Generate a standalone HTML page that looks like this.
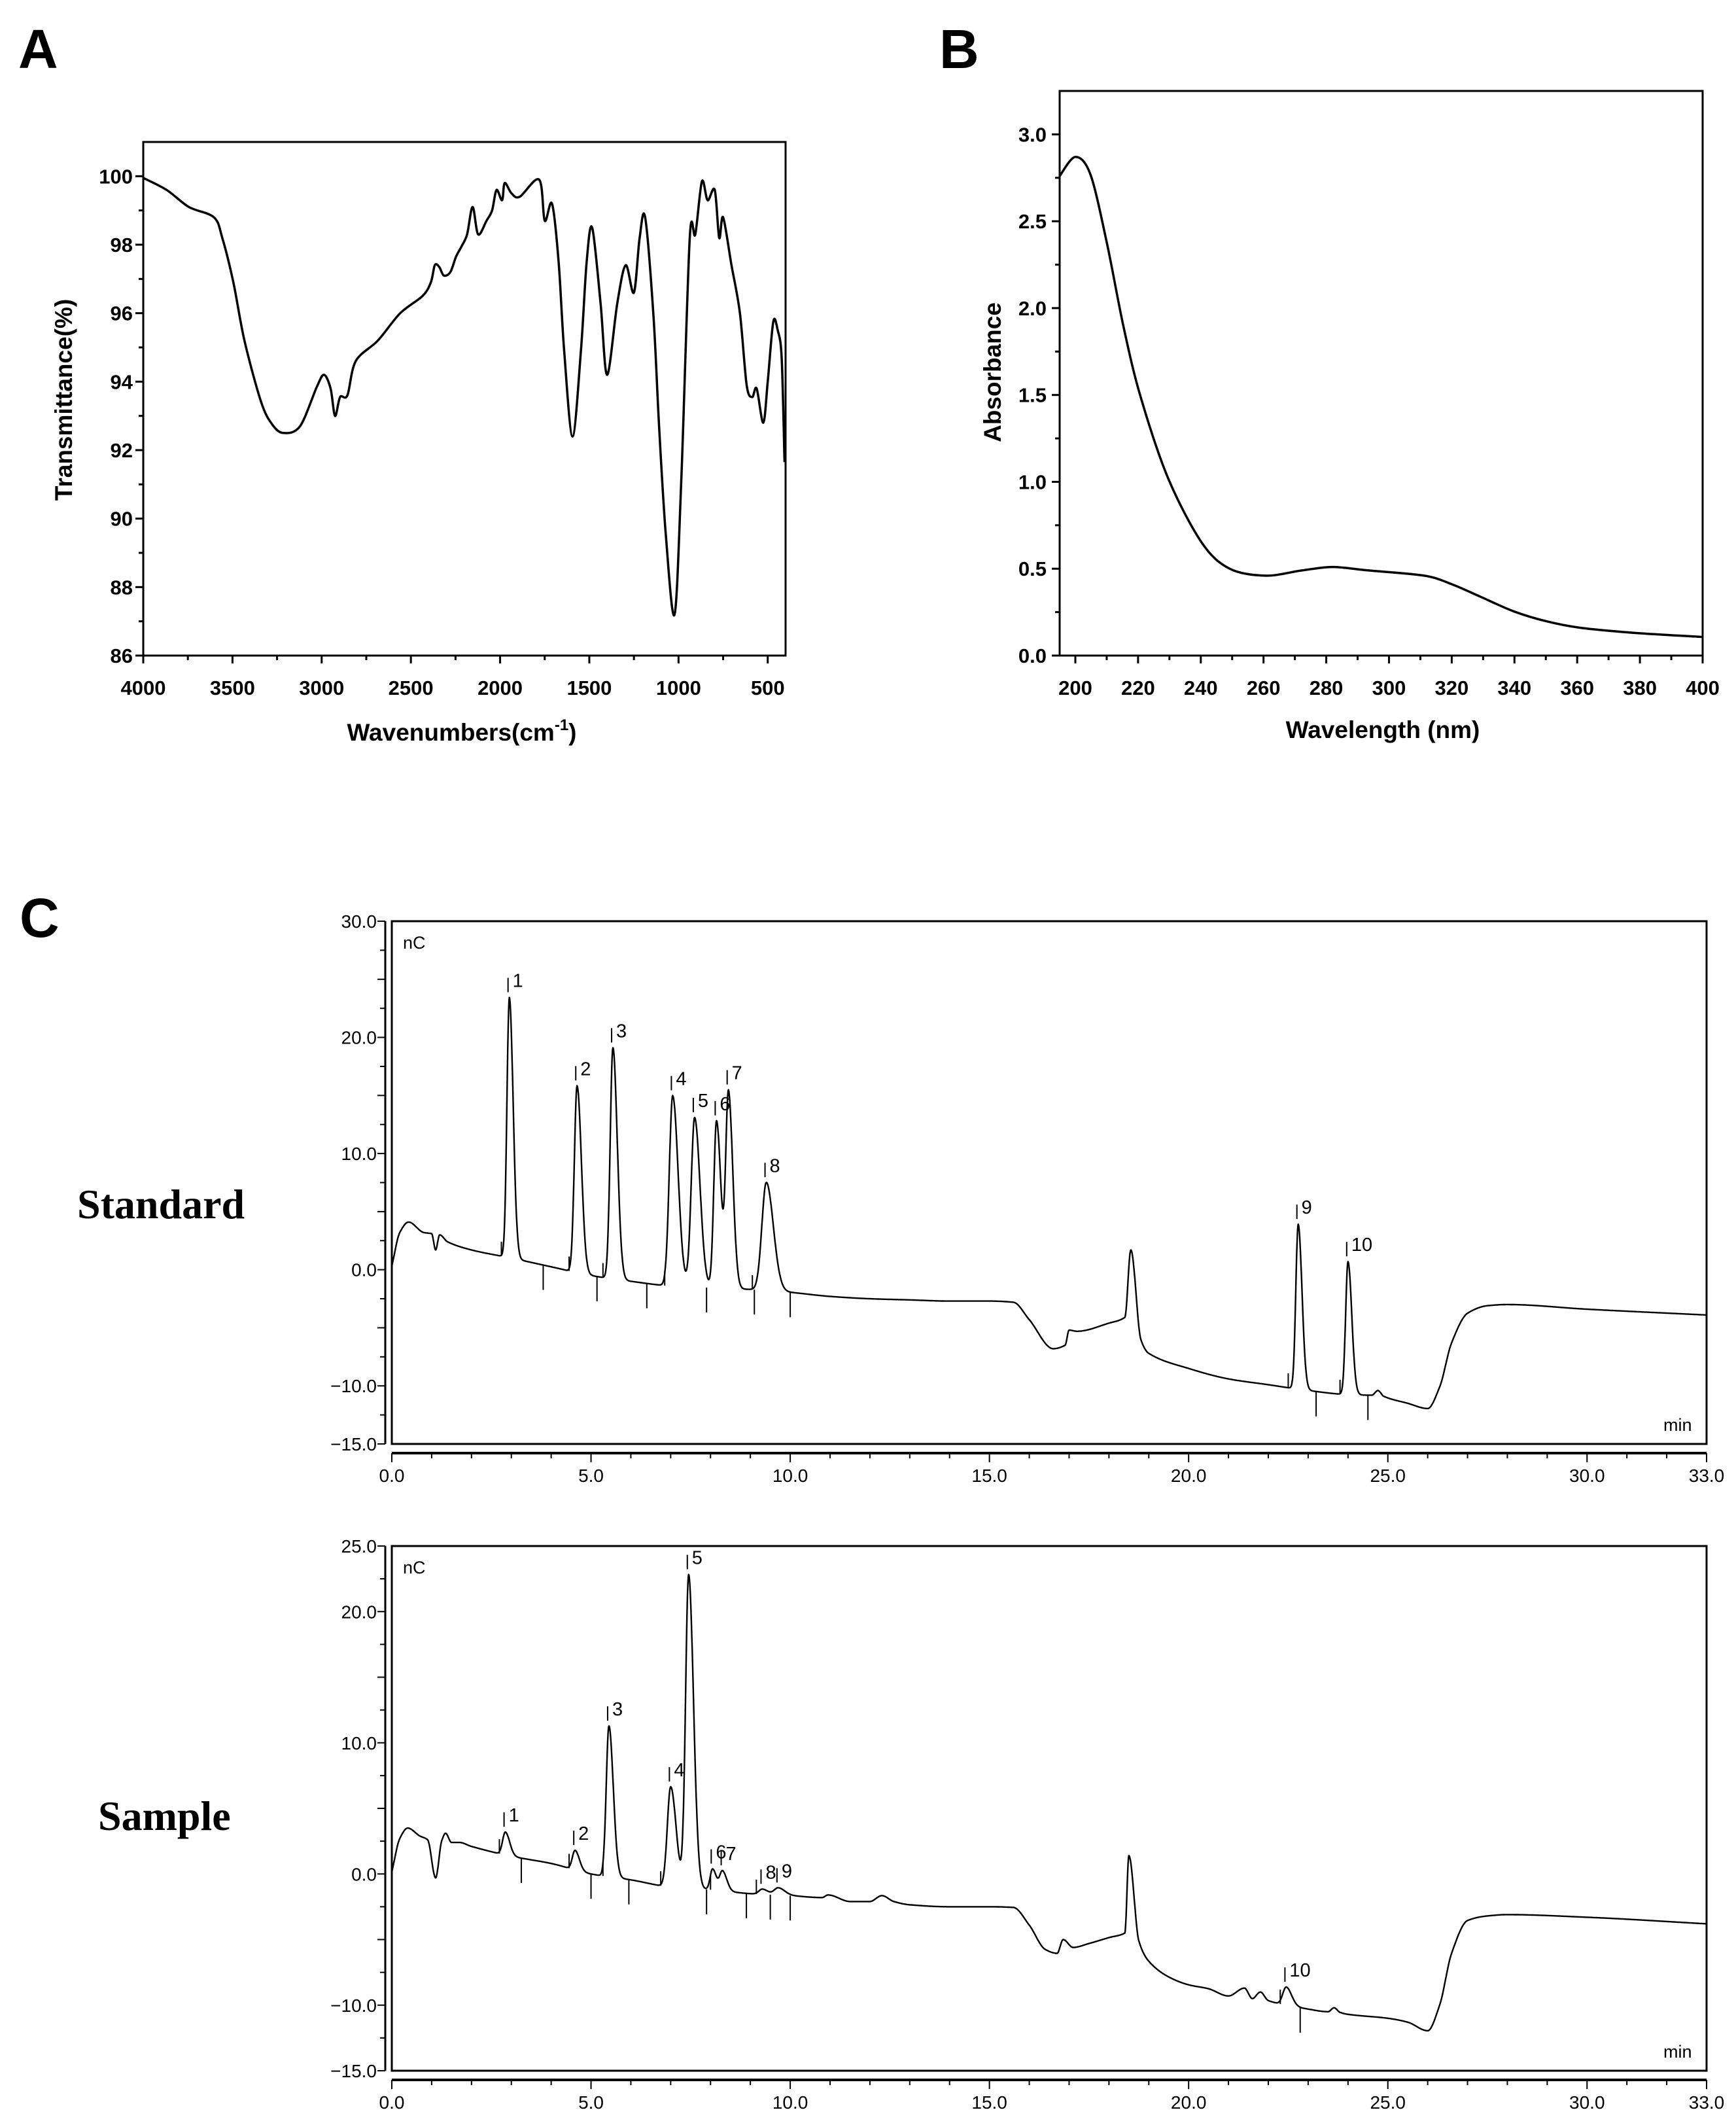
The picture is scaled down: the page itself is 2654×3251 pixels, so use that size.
<!DOCTYPE html>
<html><head><meta charset="utf-8">
<style>
html,body{margin:0;padding:0;background:#fff;}
svg{display:block;}
.b{font-family:"Liberation Sans",Arial,sans-serif;font-weight:bold;fill:#000;}
.n{font-family:"Liberation Sans Narrow","Liberation Sans",Arial,sans-serif;fill:#000;}
.s{font-family:"Liberation Serif","Times New Roman",serif;font-weight:bold;fill:#000;}
</style></head>
<body>
<svg id="fig" xmlns="http://www.w3.org/2000/svg" width="2654" height="3251" viewBox="0 0 2654 3251">
<rect x="0" y="0" width="2654" height="3251" fill="#fff"/>
<text class="b" x="28" y="104" font-size="84">A</text>
<text class="b" x="1436" y="104" font-size="84">B</text>
<text class="b" x="30" y="1432" font-size="84">C</text>
<text class="b" font-size="37" text-anchor="middle" transform="translate(110,611) rotate(-90)">Transmittance(%)</text>
<text class="b" x="706" y="1132" font-size="37" text-anchor="middle">Wavenumbers(cm<tspan font-size="24" dy="-16">-1</tspan><tspan dy="16">)</tspan></text>
<text class="b" font-size="37" text-anchor="middle" transform="translate(1530,569) rotate(-90)">Absorbance</text>
<text class="b" x="2114" y="1128" font-size="37" text-anchor="middle">Wavelength (nm)</text>
<text class="s" x="118" y="1862" font-size="64">Standard</text>
<text class="s" x="150" y="2797" font-size="64">Sample</text>
</svg>
<script>
// ---------- Panel A: FTIR ----------
const ftirWavenumbers = [4000,3869,3744,3604,3557,3495,3433,3339,3277,3214,3121,3027,2987,2950,2925,2897,2856,2809,2685,2560,2435,2388,2366,2341,2316,2279,2247,2216,2185,2154,2123,2076,2045,2020,1989,1974,1936,1890,1781,1750,1709,1672,1641,1594,1547,1515,1484,1437,1400,1343,1296,1250,1218,1187,1140,1109,1071,1022,984,937,906,869,837,797,772,750,703,656,618,587,562,525,500,469,444,422,406];
const ftirTransmittance = [99.95,99.6,99.1,98.8,98.2,96.9,95.2,93.4,92.75,92.5,92.7,93.85,94.2,93.8,93.0,93.55,93.6,94.6,95.2,96.0,96.5,96.9,97.4,97.35,97.1,97.2,97.65,97.95,98.3,99.1,98.3,98.7,99.0,99.6,99.3,99.8,99.5,99.4,99.9,98.7,99.2,97.5,94.9,92.4,94.9,97.5,98.5,96.3,94.2,96.3,97.4,96.6,98.2,98.8,95.9,92.7,89.5,87.2,91.2,98.2,98.3,99.85,99.3,99.6,98.2,98.8,97.4,96.0,93.9,93.55,93.8,92.8,94.0,95.75,95.5,94.7,91.65];
const ftirXTicks = [4000,3500,3000,2500,2000,1500,1000,500];
const ftirYTicks = [86,88,90,92,94,96,98,100];

// ---------- Panel B: UV ----------
const uvWavelengths = [195,200,204.8,210,215.4,220.8,229.6,240.3,249.2,260.7,272.2,282,293.5,311.3,320.1,329,339.7,350.3,361,378.7,400];
const uvAbsorbance = [2.76,2.87,2.77,2.38,1.89,1.49,1.02,0.65,0.50,0.46,0.49,0.51,0.49,0.46,0.41,0.34,0.255,0.197,0.16,0.13,0.107];
const uvXTicks = [200,220,240,260,280,300,320,340,360,380,400];
const uvYTicks = [0.0,0.5,1.0,1.5,2.0,2.5,3.0];

// ---------- Panel C: chromatograms ----------
const chromXTicks = [0,5,10,15,20,25,30,33];
const stdYTicks = [30,20,10,0,-10,-15];
const smpYTicks = [25,20,10,0,-10,-15];
const stdBaseTimes = [0,0.2,0.42,0.8,1.0,1.1,1.2,1.4,2,3,4,5,6,7,8,9,10,11,12,13,14,15,15.6,16,16.6,16.9,17.0,17.2,18,18.4,18.55,18.8,19,20,21,22,23,24,24.6,24.75,24.9,25.5,26,26.3,26.6,27,27.5,28,30,33];
const stdBaseValues = [0.3,3.2,4.1,3.2,3.1,1.7,3.0,2.4,1.7,1.0,0.25,-0.5,-1.0,-1.4,-1.55,-1.7,-1.95,-2.3,-2.5,-2.6,-2.7,-2.7,-2.8,-4.3,-6.8,-6.5,-5.2,-5.3,-4.6,-4.1,1.7,-6.0,-7.2,-8.5,-9.4,-9.9,-10.4,-10.75,-10.8,-10.4,-10.9,-11.5,-11.95,-10.1,-6.3,-3.75,-3.1,-3.0,-3.4,-3.9];
const stdPeakTimes = [2.95,4.65,5.55,7.05,7.6,8.15,8.45,9.4,22.75,24.0];
const stdPeakHeights = [22.4,16.1,19.9,16.4,14.6,14.4,16.8,9.3,14.2,11.45];
const stdPeakWidths = [0.07,0.08,0.08,0.1,0.1,0.08,0.08,0.13,0.07,0.07];
const stdPeakNames = ["1","2","3","4","5","6","7","8","9","10"];
const stdMarkUp = [2.75,4.45,5.3,6.85,9.05,22.5,23.8];
const stdMarkDown = [3.8,5.15,6.4,7.9,9.1,10.0,23.2,24.5];

const smpBaseTimes = [0,0.2,0.4,0.7,0.9,1.1,1.25,1.35,1.5,1.7,2,3,4,5,6,7,8,9,10,10.8,10.95,11.5,12,12.3,12.6,13,14,15,15.6,16,16.4,16.7,16.85,17.1,17.5,18,18.4,18.5,18.75,19,19.5,20,20.5,21,21.4,21.6,21.8,22,23,23.5,23.65,23.8,24,25,25.5,26,26.3,26.6,27,27.5,28,30,33];
const smpBaseValues = [0.15,2.7,3.5,2.9,2.6,-0.3,2.5,3.1,2.4,2.4,2.1,1.35,0.8,0,-0.45,-1.0,-1.2,-1.5,-1.65,-1.8,-1.6,-2.1,-2.1,-1.65,-2.1,-2.35,-2.5,-2.5,-2.55,-3.9,-5.75,-6.05,-5.0,-5.6,-5.3,-4.85,-4.5,1.4,-5.1,-6.65,-7.85,-8.45,-8.75,-9.3,-8.7,-9.5,-9.0,-9.65,-10.3,-10.5,-10.2,-10.55,-10.7,-11.0,-11.3,-11.95,-10.0,-6.05,-3.55,-3.2,-3.1,-3.3,-3.8];
const smpPeakTimes = [2.85,4.6,5.45,7.0,7.45,8.05,8.3,9.3,9.7,22.45];
const smpPeakHeights = [1.75,1.5,11.5,7.65,23.9,1.6,1.5,0.4,0.55,1.4];
const smpPeakWidths = [0.08,0.08,0.08,0.1,0.09,0.07,0.08,0.1,0.12,0.1];
const smpPeakNames = ["1","2","3","4","5","6","7","8","9","10"];
const smpMarkUp = [2.7,4.45,5.3,6.75,8.0,9.15,22.3];
const smpMarkDown = [3.25,5.0,5.95,7.9,8.9,9.5,10.0,22.8];

const NS = "http://www.w3.org/2000/svg";
const svg = document.getElementById('fig');
function mk(tag, attrs, name){
  const el = document.createElementNS(NS, tag);
  for (const k in attrs) el.setAttribute(k, attrs[k]);
  
  
  svg.appendChild(el);
  return el;
}
function lin(d0,d1,r0,r1){ return v => r0 + (v-d0)/(d1-d0)*(r1-r0); }
function smoothPath(pts){
  let d = "M"+pts[0][0].toFixed(1)+","+pts[0][1].toFixed(1);
  for (let i=0;i<pts.length-1;i++){
    const p0=pts[Math.max(0,i-1)], p1=pts[i], p2=pts[i+1], p3=pts[Math.min(pts.length-1,i+2)];
    const t=0.16;
    const c1=[p1[0]+(p2[0]-p0[0])*t, p1[1]+(p2[1]-p0[1])*t];
    const c2=[p2[0]-(p3[0]-p1[0])*t, p2[1]-(p3[1]-p1[1])*t];
    d += " C"+c1[0].toFixed(1)+","+c1[1].toFixed(1)+" "+c2[0].toFixed(1)+","+c2[1].toFixed(1)+" "+p2[0].toFixed(1)+","+p2[1].toFixed(1);
  }
  return d;
}

// ---- Panel A ----
(function(){
  const L=219,R=1201,T=217,B=1002;
  const x=lin(4000,400,L,R), y=lin(86,101,B,T);
  mk('rect',{x:L,y:T,width:R-L,height:B-T,fill:'none',stroke:'#000','stroke-width':3},'plot-frame-a');
  for (let v=86; v<=100; v+=1){
    const major = v%2===0;
    mk('line',{x1:L-(major?12:7),y1:y(v),x2:L,y2:y(v),stroke:'#000','stroke-width':3},'y-tick-a');
  }
  ftirYTicks.forEach(v=>{
    const t=mk('text',{x:L-16,y:y(v)+11,'font-size':31,'text-anchor':'end',class:'b'},'y-tick-label-a');
    t.textContent=String(v);
  });
  for (let v=4000; v>=500; v-=250){
    const major = v%500===0;
    mk('line',{x1:x(v),y1:B,x2:x(v),y2:B+(major?12:7),stroke:'#000','stroke-width':3},'x-tick-a');
  }
  ftirXTicks.forEach(v=>{
    const t=mk('text',{x:x(v),y:1062,'font-size':31,'text-anchor':'middle',class:'b'},'x-tick-label-a');
    t.textContent=String(v);
  });
  const pts=ftirWavenumbers.map((w,i)=>[x(w),y(ftirTransmittance[i])]);
  mk('path',{d:smoothPath(pts),fill:'none',stroke:'#000','stroke-width':3.5,'stroke-linejoin':'round'},'ftir-spectrum-line');
})();

// ---- Panel B ----
(function(){
  const L=1620,R=2603,T=139,B=1002;
  const x=lin(195,400,L,R), y=lin(0,3.25,B,T);
  mk('rect',{x:L,y:T,width:R-L,height:B-T,fill:'none',stroke:'#000','stroke-width':3},'plot-frame-b');
  for (let v=0; v<=3.0001; v+=0.25){
    const major = Math.abs(v*2-Math.round(v*2))<1e-6;
    mk('line',{x1:L-(major?12:7),y1:y(v),x2:L,y2:y(v),stroke:'#000','stroke-width':3},'y-tick-b');
  }
  uvYTicks.forEach(v=>{
    const t=mk('text',{x:L-20,y:y(v)+11,'font-size':31,'text-anchor':'end',class:'b'},'y-tick-label-b');
    t.textContent=v.toFixed(1);
  });
  for (let v=200; v<=400; v+=10){
    const major = v%20===0;
    mk('line',{x1:x(v),y1:B,x2:x(v),y2:B+(major?12:7),stroke:'#000','stroke-width':3},'x-tick-b');
  }
  uvXTicks.forEach(v=>{
    const t=mk('text',{x:x(v),y:1062,'font-size':31,'text-anchor':'middle',class:'b'},'x-tick-label-b');
    t.textContent=String(v);
  });
  const pts=uvWavelengths.map((w,i)=>[x(w),y(uvAbsorbance[i])]);
  mk('path',{d:smoothPath(pts),fill:'none',stroke:'#000','stroke-width':3.5},'uv-spectrum-line');
})();

// ---- Panel C ----
function interp(ts, vs, t){
  const n=ts.length;
  if (t<=ts[0]) return vs[0];
  if (t>=ts[n-1]) return vs[n-1];
  let i=1; while (t>ts[i]) i++;
  const k=i-1;
  const slope=j=>(vs[j+1]-vs[j])/(ts[j+1]-ts[j]);
  function tan(j){
    if (j===0) return slope(0);
    if (j===n-1) return slope(n-2);
    const a=slope(j-1), b=slope(j);
    if (a*b<=0) return 0;
    return 2*a*b/(a+b);
  }
  const h=ts[k+1]-ts[k], s=(t-ts[k])/h;
  const m0=tan(k)*h, m1=tan(k+1)*h;
  const h00=2*s*s*s-3*s*s+1, h10=s*s*s-2*s*s+s, h01=-2*s*s*s+3*s*s, h11=s*s*s-s*s;
  return h00*vs[k]+h10*m0+h01*vs[k+1]+h11*m1;
}
function chrom(cfg){
  const L=599,R=2609,T=cfg.T,B=cfg.B;
  const x=lin(0,33,L,R), y=lin(-15,cfg.ymax,B,T);
  const pre=cfg.pre;
  mk('rect',{x:L,y:T,width:R-L,height:B-T,fill:'none',stroke:'#000','stroke-width':3},pre+'-plot-frame');
  mk('line',{x1:589,y1:T,x2:589,y2:B,stroke:'#000','stroke-width':3},pre+'-y-axis-line');
  for (let v=-15; v<=cfg.ymax+0.001; v+=2.5){
    const major = Math.abs(v%5)<1e-6;
    mk('line',{x1:major?577:581,y1:y(v),x2:589,y2:y(v),stroke:'#000','stroke-width':2},pre+'-y-tick');
  }
  cfg.yTicks.forEach(v=>{
    const t=mk('text',{x:576,y:y(v)+10,'font-size':28,'text-anchor':'end',class:'n'},pre+'-y-tick-label');
    t.textContent=(v<0?'\u2212':'')+Math.abs(v).toFixed(1);
  });
  const ax=B+14;
  mk('line',{x1:L,y1:ax,x2:R,y2:ax,stroke:'#000','stroke-width':4},pre+'-x-axis-line');
  for (let v=0; v<=33; v+=1){
    const major = v%5===0 || v===33;
    mk('line',{x1:x(v),y1:ax,x2:x(v),y2:ax+(major?14:8),stroke:'#000','stroke-width':2},pre+'-x-tick');
  }
  chromXTicks.forEach(v=>{
    const t=mk('text',{x:x(v),y:ax+44,'font-size':28,'text-anchor':'middle',class:'n'},pre+'-x-tick-label');
    t.textContent=v.toFixed(1);
  });
  const nc=mk('text',{x:L+17,y:T+42,'font-size':27,class:'n'},pre+'-unit-nc');
  nc.textContent='nC';
  const mn=mk('text',{x:R-66,y:B-20,'font-size':27,class:'n'},pre+'-unit-min');
  mn.textContent='min';
  function val(t){
    let v=interp(cfg.bt,cfg.bv,t);
    for (let i=0;i<cfg.pt.length;i++){
      const s=cfg.pw[i]*(t<cfg.pt[i]?0.85:1.35);
      const d=(t-cfg.pt[i])/s;
      if (Math.abs(d)<8) v+=cfg.ph[i]*Math.exp(-0.5*d*d);
    }
    return v;
  }
  let d='';
  for (let t=0;t<=33.0001;t+=0.01){
    d+=(t===0?'M':' L')+x(t).toFixed(1)+','+y(val(t)).toFixed(1);
  }
  mk('path',{d:d,fill:'none',stroke:'#000','stroke-width':2.4,'stroke-linejoin':'round'},pre+'-chromatogram-line');
  cfg.pt.forEach((t,i)=>{
    const top=y(val(t));
    mk('line',{x1:x(t)-2,y1:top-8,x2:x(t)-2,y2:top-30,stroke:'#000','stroke-width':2},pre+'-peak-marker');
    const lb=mk('text',{x:x(t)+5,y:top-16,'font-size':29,class:'n'},pre+'-peak-label');
    lb.textContent=cfg.pn[i];
  });
  cfg.mu.forEach(t=>{
    const b=y(interp(cfg.bt,cfg.bv,t));
    mk('line',{x1:x(t),y1:b,x2:x(t),y2:b-22,stroke:'#000','stroke-width':2},pre+'-integration-start-mark');
  });
  cfg.md.forEach(t=>{
    const b=y(interp(cfg.bt,cfg.bv,t));
    mk('line',{x1:x(t),y1:b,x2:x(t),y2:b+38,stroke:'#000','stroke-width':2},pre+'-integration-end-mark');
  });
}
chrom({pre:'standard',T:1408,B:2207,ymax:30,yTicks:stdYTicks,bt:stdBaseTimes,bv:stdBaseValues,pt:stdPeakTimes,ph:stdPeakHeights,pw:stdPeakWidths,pn:stdPeakNames,mu:stdMarkUp,md:stdMarkDown});
chrom({pre:'sample',T:2363,B:3165,ymax:25,yTicks:smpYTicks,bt:smpBaseTimes,bv:smpBaseValues,pt:smpPeakTimes,ph:smpPeakHeights,pw:smpPeakWidths,pn:smpPeakNames,mu:smpMarkUp,md:smpMarkDown});
</script>
</body></html>
